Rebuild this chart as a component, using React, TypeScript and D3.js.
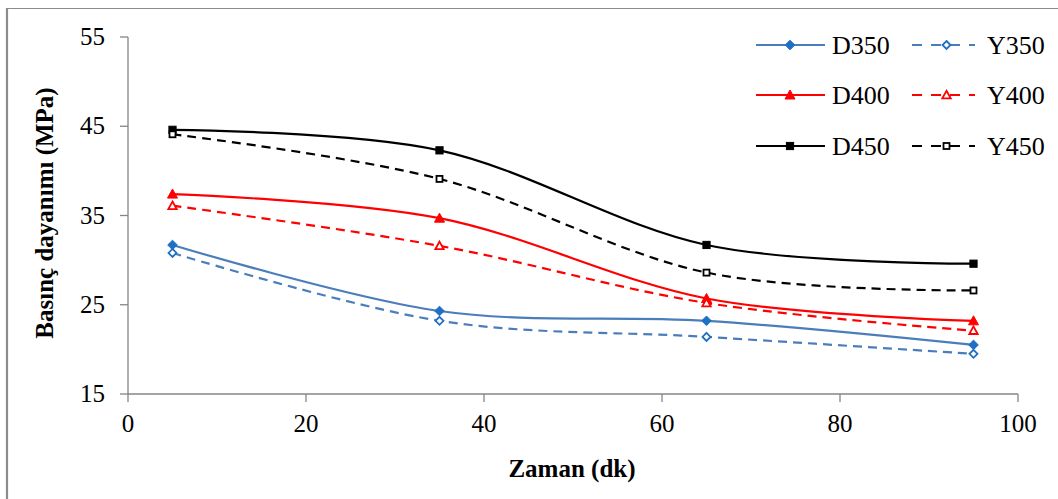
import React from "react";
import * as d3 from "d3";

const times = [5, 35, 65, 95];
const D350 = [31.7, 24.3, 23.2, 20.5];
const Y350 = [30.8, 23.2, 21.4, 19.5];
const D400 = [37.4, 34.7, 25.7, 23.2];
const Y400 = [36.1, 31.6, 25.2, 22.1];
const D450 = [44.6, 42.3, 31.7, 29.6];
const Y450 = [44.1, 39.1, 28.6, 26.6];
const xTicks = [0, 20, 40, 60, 80, 100];
const yTicks = [15, 25, 35, 45, 55];

const BLUE = "#4A7EBB";
const BLUE_M = "#1F6FC4";
const RED = "#FF0000";
const BLACK = "#000000";

type Series = { name: string; values: number[]; color: string; mcolor: string; dashed: boolean; marker: "diamond" | "triangle" | "square" };
const series: Series[] = [
  { name: "D350", values: D350, color: BLUE, mcolor: BLUE_M, dashed: false, marker: "diamond" },
  { name: "Y350", values: Y350, color: BLUE, mcolor: BLUE_M, dashed: true, marker: "diamond" },
  { name: "D400", values: D400, color: RED, mcolor: RED, dashed: false, marker: "triangle" },
  { name: "Y400", values: Y400, color: RED, mcolor: RED, dashed: true, marker: "triangle" },
  { name: "D450", values: D450, color: BLACK, mcolor: BLACK, dashed: false, marker: "square" },
  { name: "Y450", values: Y450, color: BLACK, mcolor: BLACK, dashed: true, marker: "square" },
];

const x = d3.scaleLinear().domain([0, 100]).range([128, 1018]);
const y = d3.scaleLinear().domain([15, 55]).range([394, 37]);
const line = d3
  .line<[number, number]>()
  .x((d) => x(d[0]))
  .y((d) => y(d[1]))
  .curve(d3.curveCardinal.tension(0));

const FONT = '"Liberation Serif", "Times New Roman", Tinos, "DejaVu Serif", serif';

function Marker({ s, cx, cy }: { s: Series; cx: number; cy: number }) {
  const hollow = s.dashed;
  const fill = hollow ? "#fff" : s.mcolor;
  const sw = hollow ? 1.8 : 1;
  if (s.marker === "diamond") {
    const r = hollow ? 4 : 4.8;
    return <path d={`M${cx},${cy - r}L${cx + r},${cy}L${cx},${cy + r}L${cx - r},${cy}Z`} fill={fill} stroke={s.mcolor} strokeWidth={sw} />;
  }
  if (s.marker === "triangle") {
    const r = hollow ? 4.2 : 5;
    return <path d={`M${cx},${cy - r}L${cx + r},${cy + r * 0.8}L${cx - r},${cy + r * 0.8}Z`} fill={fill} stroke={s.mcolor} strokeWidth={sw} />;
  }
  const r = hollow ? 3 : 3.6;
  return <rect x={cx - r} y={cy - r} width={2 * r} height={2 * r} fill={fill} stroke={s.mcolor} strokeWidth={sw} />;
}

export default function App() {
  const legendRows = [45, 95, 146];
  const ts = { fontFamily: FONT };
  return (
    <svg width={1058} height={499} style={{ position: "absolute", left: 0, top: 0, background: "#fff", fontFamily: FONT }}>
      <rect x={0} y={0} width={1058} height={499} fill="#fff" />
      {/* outer border */}
      <line x1={7} y1={8.5} x2={1058} y2={8.5} stroke="#8c8c8c" strokeWidth={1.2} />
      <line x1={7} y1={8} x2={7} y2={499} stroke="#8c8c8c" strokeWidth={2.2} />

      {/* axes */}
      <line x1={x(0)} y1={y(15)} x2={x(0)} y2={y(55)} stroke="#868686" strokeWidth={1.3} />
      <line x1={x(0)} y1={y(15)} x2={x(100)} y2={y(15)} stroke="#868686" strokeWidth={1.3} />
      {yTicks.map((t) => (
        <g key={"y" + t}>
          <line x1={x(0) - 8} x2={x(0)} y1={y(t)} y2={y(t)} stroke="#868686" strokeWidth={1.3} />
          <text x={105} y={y(t) + 8} textAnchor="end" fontSize={25} fill="#000" style={ts}>{t}</text>
        </g>
      ))}
      {xTicks.map((t) => (
        <g key={"x" + t}>
          <line x1={x(t)} x2={x(t)} y1={y(15)} y2={y(15) + 8} stroke="#868686" strokeWidth={1.3} />
          <text x={x(t)} y={432} textAnchor="middle" fontSize={25} fill="#000" style={ts}>{t}</text>
        </g>
      ))}

      {/* axis titles */}
      <text x={572} y={477} textAnchor="middle" fontSize={25} fontWeight="bold" style={ts}>Zaman (dk)</text>
      <text transform="translate(53,213) rotate(-90)" textAnchor="middle" fontSize={25} fontWeight="bold" style={ts}>Basınç dayanımı (MPa)</text>

      {/* series */}
      {series.map((s) => {
        const pts = times.map((t, i) => [t, s.values[i]] as [number, number]);
        return (
          <g key={s.name}>
            <path d={line(pts) || ""} fill="none" stroke={s.color} strokeWidth={2.2} strokeDasharray={s.dashed ? "9,6" : undefined} />
            {pts.map((p, i) => (
              <Marker key={i} s={s} cx={x(p[0])} cy={y(p[1])} />
            ))}
          </g>
        );
      })}

      {/* legend */}
      {series.map((s, i) => {
        const row = Math.floor(i / 2);
        const col = i % 2;
        const ly = legendRows[row];
        const x1 = col === 0 ? 756 : 912;
        const x2 = col === 0 ? 825 : 975;
        const mx = (x1 + x2) / 2 + (col === 0 ? -0.5 : 3);
        const tx = col === 0 ? 832 : 987;
        return (
          <g key={"leg" + s.name}>
            <line x1={x1} x2={x2} y1={ly} y2={ly} stroke={s.color} strokeWidth={2.2} strokeDasharray={s.dashed ? "10,9" : undefined} />
            <Marker s={s} cx={mx} cy={ly} />
            <text x={tx} y={ly + 9} fontSize={26} fill="#000" style={ts}>{s.name}</text>
          </g>
        );
      })}
    </svg>
  );
}
